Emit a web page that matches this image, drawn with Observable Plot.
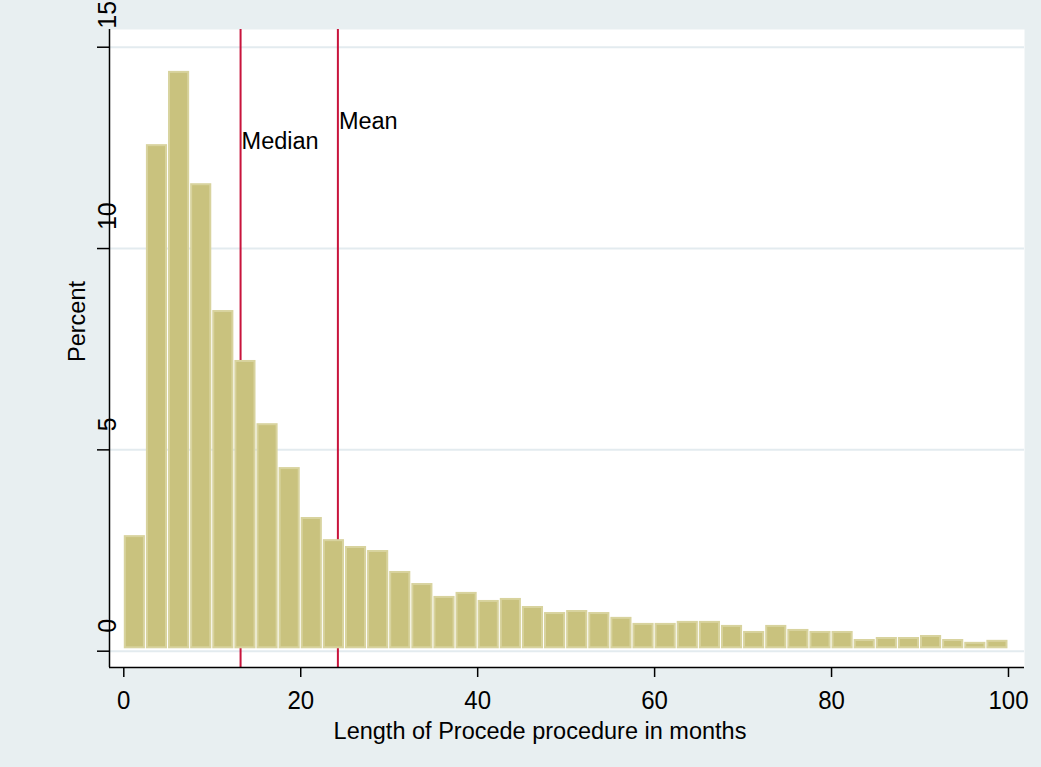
<!DOCTYPE html>
<html>
<head>
<meta charset="utf-8">
<script src="https://cdn.jsdelivr.net/npm/d3@7"></script>
<script src="https://cdn.jsdelivr.net/npm/@observablehq/plot@0.6"></script>
<style>
  html, body { margin: 0; padding: 0; background: #e8eff1; }
  #chart svg { display: block; }
</style>
</head>
<body>
<div id="chart"></div>
<script>
// Histogram bins (lower edges, months) and bar heights (percent)
const binLower = [0, 2.5, 5, 7.5, 10, 12.5, 15, 17.5, 20, 22.5,
                  25, 27.5, 30, 32.5, 35, 37.5, 40, 42.5, 45, 47.5,
                  50, 52.5, 55, 57.5, 60, 62.5, 65, 67.5, 70, 72.5,
                  75, 77.5, 80, 82.5, 85, 87.5, 90, 92.5, 95, 97.5];
const binWidth = 2.5;
const percent = [2.87, 12.58, 14.40, 11.61, 8.46, 7.22, 5.65, 4.56, 3.32, 2.77,
                 2.60, 2.50, 1.98, 1.68, 1.36, 1.46, 1.26, 1.31, 1.11, 0.96,
                 1.01, 0.96, 0.84, 0.69, 0.69, 0.74, 0.74, 0.64, 0.49, 0.64,
                 0.54, 0.49, 0.49, 0.29, 0.34, 0.34, 0.39, 0.29, 0.22, 0.27];
const refNames = ["Median", "Mean"];
const refValues = [13.2, 24.2];
const refLabelY = [12.47, 12.98];
const xTicks = [0, 20, 40, 60, 80, 100];
const yTicks = [0, 5, 10, 15];
const xLabel = "Length of Procede procedure in months";
const yLabel = "Percent";

const bars = binLower.map((b, i) => ({x1: b, x2: b + binWidth, pct: percent[i]}));
const refs = refNames.map((n, i) => ({name: n, value: refValues[i], labelY: refLabelY[i]}));

const xDomain = [-1.616, 101.81];
const yDomain = [-0.405, 15.44];
const font = "'Liberation Sans', Arial, Helvetica, sans-serif";

const chart = Plot.plot({
  width: 1041,
  height: 767,
  marginLeft: 109,
  marginRight: 17,
  marginTop: 29,
  marginBottom: 100,
  x: {domain: xDomain},
  y: {domain: yDomain},
  style: {background: "#e8eff1", fontFamily: font, color: "black", overflow: "visible"},
  marks: [
    Plot.frame({fill: "white"}),
    Plot.gridY(yTicks, {stroke: "#e3ebef", strokeOpacity: 1, strokeWidth: 2}),
    Plot.ruleX(refs, {x: "value", stroke: "#c8143c", strokeWidth: 2}),
    Plot.rect(bars, {
      x1: "x1", x2: "x2", y1: 0, y2: "pct",
      fill: "#c9c27e", stroke: "#d8d39e", strokeWidth: 2,
      insetLeft: 1.5, insetRight: 1.5, insetTop: 1, insetBottom: 3.4
    }),
    Plot.text(refs, {
      x: "value", y: "labelY", text: "name",
      textAnchor: "start", lineAnchor: "bottom", dx: 1,
      fontSize: 23.5, fill: "black", ariaLabel: "ref-label"
    }),
    Plot.ruleX([xDomain[0]], {stroke: "black", strokeWidth: 1.5}),
    Plot.ruleY([yDomain[0]], {stroke: "black", strokeWidth: 1.5}),
    Plot.axisX({ticks: xTicks, tickSize: 10, tickPadding: 13, fontSize: 24, label: null, strokeWidth: 1.5}),
    Plot.axisY({ticks: yTicks, tickSize: 12, tickFormat: () => "", label: null, strokeWidth: 1.5}),
    Plot.text(yTicks, {
      y: d => d, text: d => String(d), frameAnchor: "left",
      rotate: -90, textAnchor: "start", dx: -1.5, dy: -18.5,
      fontSize: 25, fill: "black", ariaLabel: "ytick-label"
    }),
    Plot.text([xLabel], {
      text: d => d, frameAnchor: "bottom", textAnchor: "middle", lineAnchor: "bottom",
      dx: -27, dy: 71, fontSize: 23.5, fill: "black", ariaLabel: "x-title"
    }),
    Plot.text([yLabel], {
      text: d => d, frameAnchor: "left", textAnchor: "middle", rotate: -90,
      dx: -32, dy: -27, fontSize: 23.5, fill: "black", ariaLabel: "y-title"
    })
  ]
});
document.getElementById("chart").appendChild(chart);

// The reference text is slightly stretched vertically (screen space); mimic it.
function stretch(selector, k) {
  chart.querySelectorAll(selector).forEach(t => {
    const tr = t.getAttribute("transform") || "";
    const m = tr.match(/translate\([^)]*\)/);
    if (m) {
      const rest = tr.replace(m[0], "");
      t.setAttribute("transform", `${m[0]} scale(1,${k})${rest}`);
    } else {
      const x = +t.getAttribute("x") || 0, y = +t.getAttribute("y") || 0;
      t.setAttribute("transform", `translate(${x},${y}) scale(1,${k}) translate(${-x},${-y}) ${tr}`);
    }
  });
}
stretch('g[aria-label="ref-label"] text', 1.12);
stretch('g[aria-label="x-axis tick label"] text', 1.06);
stretch('g[aria-label="x-title"] text', 1.07);
stretch('g[aria-label="y-title"] text', 1.14);
stretch('g[aria-label="ytick-label"] text', 0.8);
</script>
</body>
</html>
